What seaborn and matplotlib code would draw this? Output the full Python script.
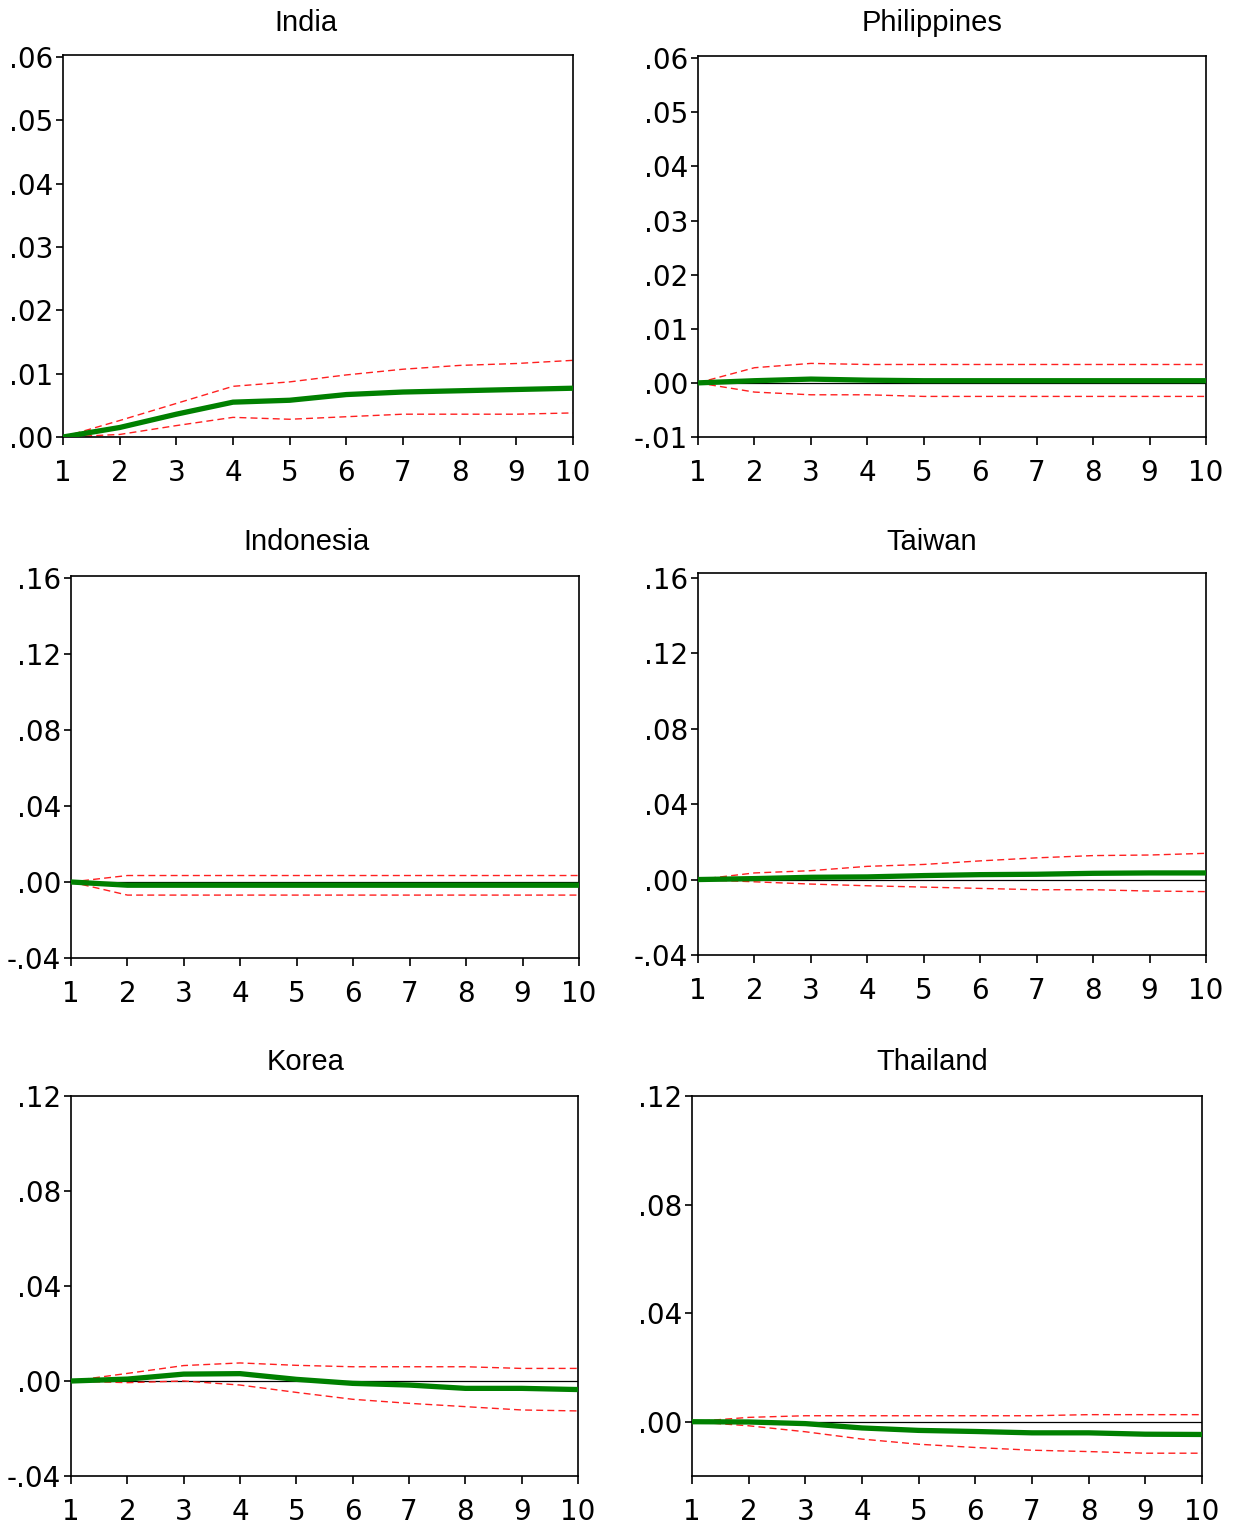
import numpy as np
import pandas as pd
import matplotlib
matplotlib.use("Agg")
import matplotlib.pyplot as plt
import seaborn as sns
from matplotlib.ticker import FuncFormatter, FixedLocator

sns.set_theme(style="white")
plt.rcParams['font.family'] = ['DejaVu Sans']

steps = list(range(1, 11))
countries = ["India", "Philippines", "Indonesia", "Taiwan", "Korea", "Thailand"]

india_resp = [0.0, 0.0015, 0.0036, 0.0055, 0.0058, 0.0067, 0.0071, 0.0073, 0.0075, 0.0077]
india_up   = [0.0, 0.0026, 0.0053, 0.0080, 0.0087, 0.0098, 0.0107, 0.0113, 0.0116, 0.0121]
india_lo   = [0.0, 0.0004, 0.0018, 0.0031, 0.0028, 0.0032, 0.0036, 0.0036, 0.0036, 0.0038]

phil_resp = [0.0, 0.0004, 0.0007, 0.0005, 0.0004, 0.0004, 0.0004, 0.0004, 0.0004, 0.0004]
phil_up   = [0.0, 0.0028, 0.0036, 0.0034, 0.0034, 0.0034, 0.0034, 0.0034, 0.0034, 0.0034]
phil_lo   = [0.0, -0.0017, -0.0022, -0.0022, -0.0025, -0.0025, -0.0025, -0.0025, -0.0025, -0.0025]

indo_resp = [0.0, -0.0017, -0.0017, -0.0017, -0.0017, -0.0017, -0.0017, -0.0017, -0.0017, -0.0017]
indo_up   = [0.0, 0.0034, 0.0034, 0.0034, 0.0034, 0.0034, 0.0034, 0.0034, 0.0034, 0.0034]
indo_lo   = [0.0, -0.0069, -0.0069, -0.0069, -0.0069, -0.0069, -0.0069, -0.0069, -0.0069, -0.0069]

taiw_resp = [0.0, 0.0005, 0.0012, 0.0014, 0.0021, 0.0026, 0.0028, 0.0033, 0.0035, 0.0035]
taiw_up   = [0.0, 0.0035, 0.0047, 0.0070, 0.0080, 0.0099, 0.0115, 0.0127, 0.0130, 0.0139]
taiw_lo   = [0.0, -0.0012, -0.0024, -0.0033, -0.0040, -0.0047, -0.0054, -0.0054, -0.0061, -0.0064]

kor_resp = [0.0, 0.0008, 0.0029, 0.0031, 0.0007, -0.0010, -0.0017, -0.0031, -0.0031, -0.0036]
kor_up   = [0.0, 0.0032, 0.0065, 0.0076, 0.0066, 0.0060, 0.0060, 0.0060, 0.0053, 0.0053]
kor_lo   = [0.0, -0.0007, 0.0, -0.0017, -0.0048, -0.0077, -0.0094, -0.0108, -0.0122, -0.0126]

thai_resp = [0.0, -0.0001, -0.0007, -0.0023, -0.0032, -0.0036, -0.0041, -0.0041, -0.0046, -0.0047]
thai_up   = [0.0, 0.0016, 0.0022, 0.0022, 0.0022, 0.0022, 0.0022, 0.0026, 0.0026, 0.0026]
thai_lo   = [0.0, -0.0015, -0.0037, -0.0064, -0.0083, -0.0095, -0.0105, -0.0110, -0.0116, -0.0116]

resp = [india_resp, phil_resp, indo_resp, taiw_resp, kor_resp, thai_resp]
upper = [india_up, phil_up, indo_up, taiw_up, kor_up, thai_up]
lower = [india_lo, phil_lo, indo_lo, taiw_lo, kor_lo, thai_lo]

ylims = [(0.0, 0.0603), (-0.01, 0.0604), (-0.04, 0.161), (-0.04, 0.1625), (-0.04, 0.12), (-0.02, 0.12)]
yticks = [
    [0.00, 0.01, 0.02, 0.03, 0.04, 0.05, 0.06],
    [-0.01, 0.00, 0.01, 0.02, 0.03, 0.04, 0.05, 0.06],
    [-0.04, 0.00, 0.04, 0.08, 0.12, 0.16],
    [-0.04, 0.00, 0.04, 0.08, 0.12, 0.16],
    [-0.04, 0.00, 0.04, 0.08, 0.12],
    [0.00, 0.04, 0.08, 0.12],
]

W, H = 1242, 1529
# axes boxes in pixels: left, right, top, bottom
boxes = [
    (63, 573, 55, 437),
    (698, 1206, 56, 437),
    (71, 579, 576, 958),
    (698, 1206, 573, 955),
    (71, 578, 1096, 1476),
    (692, 1202, 1096, 1476),
]
# title centres in pixels
title_pos = [(306, 23), (932, 23), (306, 542), (932, 542), (306, 1062), (932, 1062)]

def fmt(v, pos=None):
    s = f"{v:.2f}"
    if s.startswith("-0."):
        s = "-" + s[2:]
    elif s.startswith("0."):
        s = s[1:]
    return s

fig = plt.figure(figsize=(W / 100, H / 100), dpi=100)
fig.patch.set_facecolor("white")

for i, name in enumerate(countries):
    l, r, t, b = boxes[i]
    ax = fig.add_axes([l / W, 1 - b / H, (r - l) / W, (b - t) / H])
    ax.set_facecolor("white")
    ax.axhline(0, color="black", lw=0.9, zorder=1)
    df = pd.DataFrame({"step": steps, "resp": resp[i], "up": upper[i], "lo": lower[i]})
    sns.lineplot(data=df, x="step", y="up", ax=ax, color="#ff2020", lw=1.0,
                 linestyle=(0, (5, 3)), zorder=2)
    sns.lineplot(data=df, x="step", y="lo", ax=ax, color="#ff2020", lw=1.0,
                 linestyle=(0, (5, 3)), zorder=2)
    sns.lineplot(data=df, x="step", y="resp", ax=ax, color="#008000", lw=3.8,
                 zorder=3)
    ax.set_xlim(1, 10)
    ax.set_ylim(*ylims[i])
    ax.xaxis.set_major_locator(FixedLocator(steps))
    ax.yaxis.set_major_locator(FixedLocator(yticks[i]))
    ax.yaxis.set_major_formatter(FuncFormatter(fmt))
    ax.set_xlabel("")
    ax.set_ylabel("")
    for sp in ax.spines.values():
        sp.set_visible(True)
        sp.set_color("black")
        sp.set_linewidth(1.2)
    ax.tick_params(axis="x", which="major", direction="out", length=6, width=1.2,
                   color="black", labelsize=20, pad=10, bottom=True, top=False,
                   labelcolor="black")
    ax.tick_params(axis="y", which="major", direction="out", length=5, width=1.2,
                   color="black", labelsize=20, pad=2, left=True, right=False,
                   labelcolor="black")
    ax.grid(False)
    tx, ty = title_pos[i]
    fig.text(tx / W, 1 - ty / H, name, ha="center", va="center", fontsize=21,
             family=["Liberation Sans", "DejaVu Sans"], color="black")

fig.savefig("out.png", dpi=100, facecolor="white")
